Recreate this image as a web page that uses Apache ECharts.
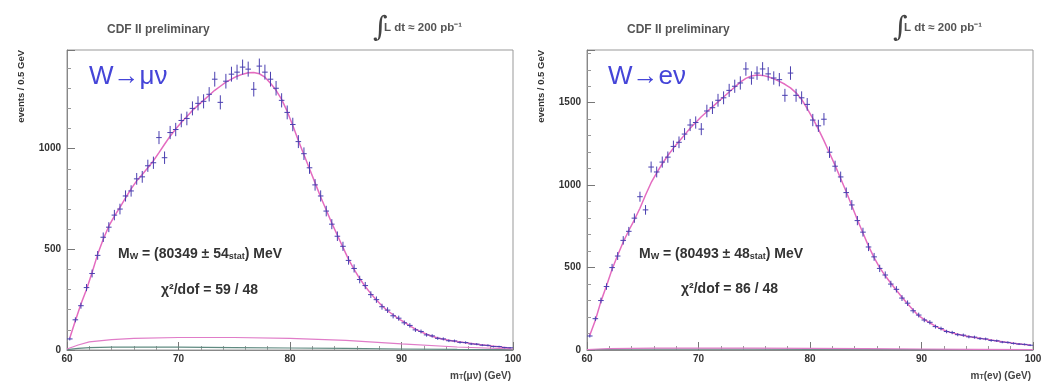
<!DOCTYPE html>
<html>
<head>
<meta charset="utf-8">
<script src="https://cdn.jsdelivr.net/npm/echarts@6/dist/echarts.min.js"></script>
<style>html,body{margin:0;padding:0;background:#fff;}#c{width:1046px;height:382px;}</style>
</head>
<body>
<div id="c"></div>
<script>
// bin centres (0.5 GeV bins, 60-100 GeV)
const binCenters = [60.25,60.75,61.25,61.75,62.25,62.75,63.25,63.75,64.25,64.75,65.25,65.75,66.25,66.75,67.25,67.75,68.25,68.75,69.25,69.75,
70.25,70.75,71.25,71.75,72.25,72.75,73.25,73.75,74.25,74.75,75.25,75.75,76.25,76.75,77.25,77.75,78.25,78.75,79.25,79.75,
80.25,80.75,81.25,81.75,82.25,82.75,83.25,83.75,84.25,84.75,85.25,85.75,86.25,86.75,87.25,87.75,88.25,88.75,89.25,89.75,
90.25,90.75,91.25,91.75,92.25,92.75,93.25,93.75,94.25,94.75,95.25,95.75,96.25,96.75,97.25,97.75,98.25,98.75,99.25,99.75];

// W -> mu nu
const muData = [55,150,220,310,380,470,560,610,670,700,765,790,850,860,915,930,1055,955,1080,1095,
1140,1150,1200,1225,1235,1270,1345,1230,1335,1370,1380,1405,1395,1295,1410,1380,1345,1300,1240,1180,
1120,1035,975,905,820,765,690,625,565,515,445,405,350,320,275,250,215,198,170,158,
135,122,100,92,75,70,58,55,46,45,38,37,30,29,24,23,17,17,12,11];
const muFit = [60,145,228,300,385,475,550,615,665,708,755,800,840,872,905,940,980,1022,1062,1098,
1130,1160,1190,1215,1240,1265,1290,1310,1330,1345,1360,1370,1377,1378,1372,1355,1325,1290,1245,1185,
1115,1040,970,900,830,760,695,630,570,510,450,400,355,315,280,248,220,195,175,155,
138,120,104,90,78,68,60,53,48,44,40,36,32,28,25,22,19,16,13,10];

// W -> e nu
const eData = [85,190,300,385,500,570,665,720,800,930,850,1110,1080,1140,1170,1235,1260,1310,1365,1380,
1340,1450,1470,1515,1530,1575,1600,1620,1705,1650,1680,1705,1675,1650,1640,1545,1680,1545,1530,1490,
1395,1360,1400,1200,1115,1050,955,880,785,715,625,565,495,455,400,368,315,284,238,212,
182,168,142,130,112,106,93,90,80,78,69,67,58,56,48,46,40,36,34,29];
const eFit = [90,180,295,390,490,575,655,725,790,860,940,1015,1075,1130,1180,1225,1265,1305,1345,1380,
1415,1445,1475,1505,1535,1565,1595,1625,1648,1662,1668,1666,1658,1645,1630,1612,1590,1560,1520,1465,
1405,1340,1270,1195,1120,1040,960,875,790,710,630,560,500,450,405,362,320,280,242,208,
185,165,145,128,114,104,95,88,82,76,71,66,60,55,50,45,41,37,33,30];

// backgrounds
const bgMass = [60,61,62,64,66,70,75,80,85,90,95,100];
const muBgA = [5,25,40,52,58,62,62,58,48,30,15,5];
const muBgB = [2,8,12,14,15,14,12,10,8,5,3,2];
const eBgA = [2,6,8,10,11,12,11,10,8,6,4,2];
const eBgB = [1,3,4,5,5,5,5,4,3,2,2,1];

const xTickValues = [60,70,80,90,100];

const FONT = '"Liberation Sans", Arial, sans-serif';
const ERR_COLOR = '#4a3fb0';
const FIT_COLOR = '#e46cc0';

function pairs(xs, ys){ return xs.map((x,i)=>[x, ys[i]]); }
function errRows(vals){ return binCenters.map((x,i)=>[x, vals[i], vals[i]-Math.sqrt(vals[i]), vals[i]+Math.sqrt(vals[i])]); }

function renderErr(params, api){
  const x = api.value(0), y = api.value(1), lo = api.value(2), hi = api.value(3);
  const p = api.coord([x, y]);
  const pl = api.coord([x-0.25, y]);
  const pr = api.coord([x+0.25, y]);
  const t = api.coord([x, hi]);
  const b = api.coord([x, lo]);
  return {type:'group', children:[
    {type:'line', shape:{x1:pl[0], y1:p[1], x2:pr[0], y2:p[1]}, style:{stroke:ERR_COLOR, lineWidth:1}},
    {type:'line', shape:{x1:p[0], y1:t[1], x2:p[0], y2:b[1]}, style:{stroke:ERR_COLOR, lineWidth:1}}
  ]};
}

function xAxisCfg(idx){
  return {
    gridIndex: idx, type:'value', min:60, max:100, interval:10,
    axisLine:{show:true, lineStyle:{color:'#888', width:1}},
    axisTick:{show:true, inside:true, length:8, lineStyle:{color:'#777'}},
    minorTick:{show:true, splitNumber:5, length:4, lineStyle:{color:'#999'}},
    splitLine:{show:false},
    axisLabel:{fontSize:10, fontWeight:'bold', color:'#333', margin:4, fontFamily:FONT,
      formatter: v => xTickValues.indexOf(v) >= 0 ? String(v) : ''}
  };
}
function yAxisCfg(idx, max){
  return {
    gridIndex: idx, type:'value', min:0, max:max, interval:500,
    axisLine:{show:true, lineStyle:{color:'#888', width:1}},
    axisTick:{show:true, inside:true, length:8, lineStyle:{color:'#777'}},
    minorTick:{show:true, splitNumber:5, length:4, lineStyle:{color:'#999'}},
    splitLine:{show:false},
    axisLabel:{fontSize:10, fontWeight:'bold', color:'#333', margin:6, fontFamily:FONT, showMaxLabel:false,
      formatter: v => String(Math.round(v))}
  };
}

function lineSeries(idx, data, color, width, z){
  return {type:'line', xAxisIndex:idx, yAxisIndex:idx, data:data, showSymbol:false, symbol:'none',
    lineStyle:{color:color, width:width}, z:z, silent:true, animation:false};
}

const chart = echarts.init(document.getElementById('c'), null, {renderer:'canvas'});

function txt(x, y, text, size, weight, color, align, extra){
  return Object.assign({type:'text', x:x, y:y, silent:true, style:{text:text, fill:color,
    font: weight + ' ' + size + 'px ' + FONT, textAlign:align || 'left', textVerticalAlign:'middle'}}, extra || {});
}
function richTxt(x, y, text, big, small, color, align){
  return {type:'text', x:x, y:y, silent:true, style:{text:text, textAlign:align || 'left', textVerticalAlign:'middle',
    rich:{
      m:{fontSize:big, fontWeight:'bold', fontFamily:FONT, fill:color, lineHeight:big+4, verticalAlign:'bottom'},
      s:{fontSize:small, fontWeight:'bold', fontFamily:FONT, fill:color, lineHeight:small-1, verticalAlign:'bottom'}
    }}};
}

const graphics = [];
[[0,67],[1,587]].forEach(([i, gx]) => {
  graphics.push(txt(gx+40, 30, 'CDF II preliminary', 12, 'bold', '#555', 'left'));
  graphics.push(txt(gx+306, 29, '∫', 26, 'normal', '#444', 'left', {style:{text:'∫', fill:'#444', font:'normal 28px "DejaVu Serif", serif', textAlign:'left', textVerticalAlign:'middle'}}));
  graphics.push(txt(gx+317, 28, 'L dt ≈ 200 pb⁻¹', 11.5, 'bold', '#555', 'left'));
  graphics.push(txt(gx-46, 50, 'events / 0.5 GeV', 9.5, 'bold', '#333', 'right', {rotation: Math.PI/2}));
});
graphics.push(txt(89, 77, 'W→μν', 26, 'normal', '#4545d8', 'left'));
graphics.push(txt(608, 77, 'W→eν', 26, 'normal', '#4545d8', 'left'));
graphics.push(richTxt(118, 252, '{m|M}{s|W}{m| = (80349 ± 54}{s|stat}{m|) MeV}', 14, 9, '#333'));
graphics.push(richTxt(639, 252, '{m|M}{s|W}{m| = (80493 ± 48}{s|stat}{m|) MeV}', 14, 9, '#333'));
graphics.push(txt(161, 290, 'χ²/dof = 59 / 48', 14, 'bold', '#333', 'left'));
graphics.push(txt(681, 289, 'χ²/dof = 86 / 48', 14, 'bold', '#333', 'left'));
graphics.push(richTxt(511, 374, '{m|m}{s|T}{m|(μν) (GeV)}', 10, 7, '#444', 'right'));
graphics.push(richTxt(1031, 374, '{m|m}{s|T}{m|(eν) (GeV)}', 10, 7, '#444', 'right'));

chart.setOption({
  backgroundColor:'#fff',
  animation:false,
  grid:[
    {left:67, top:50, width:446, height:300, show:true, borderColor:'#999', borderWidth:1, backgroundColor:'#fff'},
    {left:587, top:50, width:446, height:300, show:true, borderColor:'#999', borderWidth:1, backgroundColor:'#fff'}
  ],
  xAxis:[xAxisCfg(0), xAxisCfg(1)],
  yAxis:[yAxisCfg(0, 1490), yAxisCfg(1, 1820)],
  series:[
    lineSeries(0, pairs(bgMass, muBgB), '#5f8a80', 1.2, 2),
    lineSeries(0, pairs(bgMass, muBgA), '#e07cc8', 1.2, 2),
    lineSeries(0, pairs(binCenters, muFit), FIT_COLOR, 1.5, 3),
    {type:'custom', xAxisIndex:0, yAxisIndex:0, renderItem:renderErr, data:errRows(muData), z:4, silent:true, animation:false},
    lineSeries(1, pairs(bgMass, eBgB), '#6f8a88', 1.2, 2),
    lineSeries(1, pairs(bgMass, eBgA), '#e07cc8', 1.2, 2),
    lineSeries(1, pairs(binCenters, eFit), FIT_COLOR, 1.5, 3),
    {type:'custom', xAxisIndex:1, yAxisIndex:1, renderItem:renderErr, data:errRows(eData), z:4, silent:true, animation:false}
  ],
  graphic:{elements:graphics}
});
</script>
</body>
</html>
